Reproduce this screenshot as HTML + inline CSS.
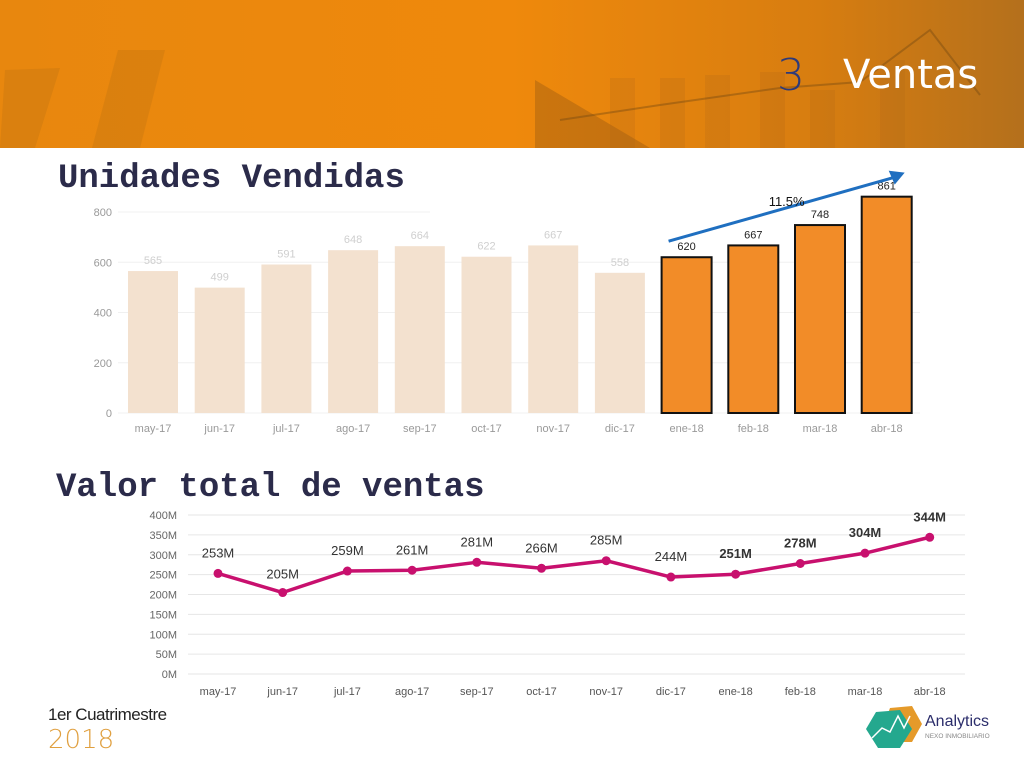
<!DOCTYPE html>
<html><head><meta charset="utf-8">
<style>
html,body{margin:0;padding:0;background:#fff;}
body{width:1024px;height:768px;position:relative;overflow:hidden;font-family:"Liberation Sans",sans-serif;}
.abs{position:absolute;}
</style></head>
<body>
<svg class="abs" style="left:0;top:0" width="1024" height="768">
  <defs>
    <linearGradient id="hdr" x1="0" y1="0" x2="1" y2="0">
      <stop offset="0" stop-color="#e8870e"/>
      <stop offset="0.5" stop-color="#ef890c"/>
      <stop offset="0.8" stop-color="#d77d10"/>
      <stop offset="1" stop-color="#b4701c"/>
    </linearGradient>
  </defs>
  <g>
    <rect x="0" y="0" width="1024" height="148" fill="url(#hdr)"/>
    <polygon points="5,70 60,68 35,148 0,148" fill="#b06a15" opacity="0.25"/>
    <polygon points="118,50 165,50 140,148 92,148" fill="#b06a15" opacity="0.25"/>
    <polygon points="535,80 650,148 535,148" fill="#7a4a14" opacity="0.3"/>
    <rect x="610" y="78" width="25" height="70" fill="#a8651a" opacity="0.2"/>
    <rect x="660" y="78" width="25" height="70" fill="#a8651a" opacity="0.2"/>
    <rect x="705" y="75" width="25" height="73" fill="#a8651a" opacity="0.2"/>
    <rect x="760" y="72" width="25" height="76" fill="#a8651a" opacity="0.2"/>
    <rect x="810" y="90" width="25" height="58" fill="#a8651a" opacity="0.2"/>
    <rect x="880" y="60" width="25" height="88" fill="#a8651a" opacity="0.2"/>
    <polyline points="560,120 660,105 780,88 860,82 930,30 980,95" fill="none" stroke="#6e4512" stroke-width="2" opacity="0.4"/>
  </g>
  <text x="777" y="90" font-family="DejaVu Sans, sans-serif" font-weight="200" font-size="44" fill="#2e3a7a">3</text>
  <text x="843" y="88" font-family="DejaVu Sans, sans-serif" font-size="40" fill="#ffffff">Ventas</text>
  <text x="58" y="187" font-family="Liberation Mono, monospace" font-weight="bold" font-size="34" fill="#2b2b4a">Unidades Vendidas</text>
  <text x="56" y="496" font-family="Liberation Mono, monospace" font-weight="bold" font-size="34" fill="#2b2b4a">Valor total de ventas</text>
  <g id="bars"></g>
  <g id="line"></g>
  <text x="48" y="720" font-family="Liberation Sans, sans-serif" font-size="17" fill="#222" letter-spacing="-0.5">1er Cuatrimestre</text>
  <text x="48" y="748" font-family="DejaVu Sans, sans-serif" font-size="26" fill="#e0a040" font-weight="200">2018</text>
  <g>
    <polygon points="890,708 912,706 922,724 912,742 892,742 884,724" fill="#e59a2a"/>
    <polygon points="876,712 900,710 912,729 900,748 878,748 866,729" fill="#24a88e"/>
    <polyline points="872,738 882,728 890,732 898,716 904,728 910,716" fill="none" stroke="#fff" stroke-width="1.5"/>
    <text x="925" y="726" font-family="Liberation Sans, sans-serif" font-size="16" fill="#2b2d6b">Analytics</text>
    <text x="925" y="738" font-family="Liberation Sans, sans-serif" font-size="6.5" fill="#888">NEXO INMOBILIARIO</text>
  </g>
</svg>
<script>
const NS='http://www.w3.org/2000/svg';
const barCats=['may-17','jun-17','jul-17','ago-17','sep-17','oct-17','nov-17','dic-17','ene-18','feb-18','mar-18','abr-18'];
const barVals=[565,499,591,648,664,622,667,558,620,667,748,861];
const barTicks=[0,200,400,600,800];
const lineCats=['may-17','jun-17','jul-17','ago-17','sep-17','oct-17','nov-17','dic-17','ene-18','feb-18','mar-18','abr-18'];
const lineVals=[253,205,259,261,281,266,285,244,251,278,304,344];
const lineTicks=[0,50,100,150,200,250,300,350,400];
const growthLabel='11.5%';

function mk(tag,attrs,parent,text){const e=document.createElementNS(NS,tag);for(const k in attrs)e.setAttribute(k,attrs[k]);if(text!==undefined)e.textContent=text;parent.appendChild(e);return e;}

const bx=i=>153+i*66.7;
const by=v=>413-v*(201/800);
const bg=document.getElementById('bars');
barTicks.forEach(t=>{
  const l=mk('line',{x1:118,x2:t===800?430:920,y1:by(t),y2:by(t),stroke:'#f0f0f0','stroke-width':1},bg);
  
  
  const tx=mk('text',{x:112,y:by(t)+4,'text-anchor':'end','font-size':11,fill:'#999','font-family':'Liberation Sans, sans-serif'},bg,String(t));
  
  
});
barCats.forEach((c,i)=>{
  const hi=i>=8;
  const x=bx(i),y=by(barVals[i]);
  const r=mk('rect',{x:x-25,y:y,width:50,height:by(0)-y,fill:hi?'#f28c28':'#f3e1cf',stroke:hi?'#111':'none','stroke-width':hi?2:0},bg);
  
  
  const vt=mk('text',{x:x,y:y-7,'text-anchor':'middle','font-size':11,fill:hi?'#222':'#cfcfcf','font-family':'Liberation Sans, sans-serif'},bg,String(barVals[i]));
  
  
  const ct=mk('text',{x:x,y:432,'text-anchor':'middle','font-size':11,fill:'#999','font-family':'Liberation Sans, sans-serif'},bg,c);
  
  
});
const arr=mk('line',{x1:bx(8)-18,y1:by(barVals[8])-16,x2:bx(11)+10,y2:by(barVals[11])-20,stroke:'#1f6fc0','stroke-width':3},bg);


const ah=mk('polygon',{points:`${bx(11)+18},${by(barVals[11])-24} ${bx(11)+2},${by(barVals[11])-26} ${bx(11)+8},${by(barVals[11])-12}`,fill:'#1f6fc0'},bg);


const gl=mk('text',{x:(bx(9)+bx(10))/2,y:206,'text-anchor':'middle','font-size':13,fill:'#111','font-family':'Liberation Sans, sans-serif'},bg,growthLabel);



const lx=i=>218+i*64.7;
const ly=v=>674-v*(159/400);
const lg=document.getElementById('line');
lineTicks.forEach(t=>{
  const l=mk('line',{x1:188,x2:965,y1:ly(t),y2:ly(t),stroke:'#e6e6e6','stroke-width':1},lg);
  
  
  const tx=mk('text',{x:177,y:ly(t)+4,'text-anchor':'end','font-size':11,fill:'#666','font-family':'Liberation Sans, sans-serif'},lg,t+'M');
  
  
});
const pts=lineVals.map((v,i)=>lx(i)+','+ly(v)).join(' ');
const pl=mk('polyline',{points:pts,fill:'none',stroke:'#c8106e','stroke-width':3.5,'stroke-linejoin':'round'},lg);


lineCats.forEach((c,i)=>{
  const x=lx(i),y=ly(lineVals[i]);
  const p=mk('circle',{cx:x,cy:y,r:4.5,fill:'#c8106e'},lg);
  
  
  const bold=i>=8;
  const vt=mk('text',{x:x,y:i===1?y-14:y-16,'text-anchor':'middle','font-size':13,fill:'#333','font-weight':bold?'bold':'normal','font-family':'Liberation Sans, sans-serif'},lg,lineVals[i]+'M');
  
  
  const ct=mk('text',{x:x,y:695,'text-anchor':'middle','font-size':11,fill:'#555','font-family':'Liberation Sans, sans-serif'},lg,c);
  
  
});
</script>
</body></html>
